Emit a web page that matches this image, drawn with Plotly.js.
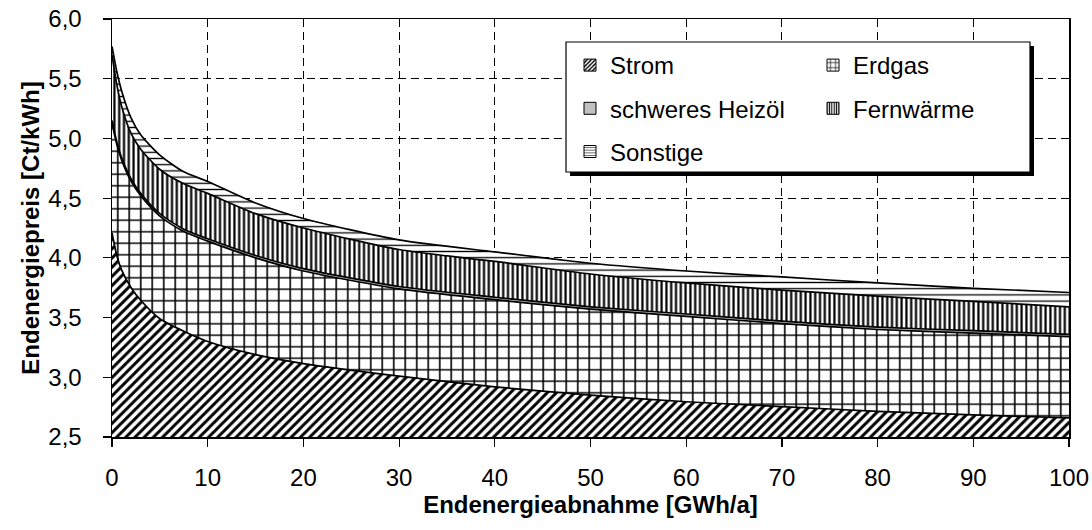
<!DOCTYPE html>
<html>
<head>
<meta charset="utf-8">
<script src="https://cdn.plot.ly/plotly-3.0.1.min.js"></script>
<style>
  html, body { margin: 0; padding: 0; background: #fff; }
  #chart { width: 1092px; height: 530px; }
</style>
</head>
<body>
<div id="chart"></div>
<script>
// Endenergieabnahme [GWh/a]
const abnahme = [0, 0.5, 1, 2, 3, 5, 7.5, 10, 15, 20, 30, 40, 50, 60, 70, 80, 90, 100];
// stacked contributions [Ct/kWh]
const strom     = [4.21, 4.02, 3.90, 3.75, 3.645, 3.49, 3.385, 3.30, 3.19, 3.115, 3.01, 2.92, 2.85, 2.795, 2.755, 2.715, 2.685, 2.66];
const erdgas    = [0.92, 0.93, 0.92, 0.89, 0.875, 0.86, 0.835, 0.84, 0.81, 0.775, 0.73, 0.73, 0.72, 0.715, 0.695, 0.685, 0.685, 0.68];
const heizoel   = [0.02, 0.02, 0.02, 0.02, 0.02, 0.02, 0.02, 0.02, 0.02, 0.02, 0.02, 0.02, 0.02, 0.02, 0.02, 0.02, 0.02, 0.02];
const fernwaerme= [0.55, 0.48, 0.43, 0.38, 0.37, 0.37, 0.38, 0.38, 0.35, 0.34, 0.31, 0.30, 0.275, 0.26, 0.26, 0.26, 0.245, 0.23];
const sonstige  = [0.07, 0.11, 0.13, 0.13, 0.12, 0.12, 0.10, 0.10, 0.09, 0.08, 0.08, 0.08, 0.09, 0.10, 0.11, 0.11, 0.11, 0.12];

const seriesNames = ['Strom', 'Erdgas', 'schweres Heizöl', 'Fernwärme', 'Sonstige'];
const seriesValues = [strom, erdgas, heizoel, fernwaerme, sonstige];
const patterns = [
  {shape: '/', size: 6.5, solidity: 0.46},
  {shape: '+', size: 11.5, solidity: 0.26},
  {shape: '', size: 8, solidity: 0.3},
  {shape: '|', size: 4.8, solidity: 0.46},
  {shape: '-', size: 6.2, solidity: 0.21}
];
const legendOf = ['legend', 'legend2', 'legend', 'legend2', 'legend'];

const FONT = 'Liberation Sans, Arial, sans-serif';
const traces = [];
seriesValues.forEach((vals, i) => {
  const p = patterns[i];
  const isSolid = p.shape === '';
  const area = {
    type: 'scatter', mode: 'lines', x: abnahme, y: vals, name: seriesNames[i],
    stackgroup: 'one', showlegend: false, hoverinfo: 'skip',
    line: {color: '#000', width: 1.7, shape: 'spline', smoothing: 0.7},
    fillcolor: isSolid ? '#c0c0c0' : '#ffffff'
  };
  if (!isSolid) {
    area.fillpattern = {shape: p.shape, fgcolor: '#000', bgcolor: '#fff', size: p.size, solidity: p.solidity, fillmode: 'replace'};
  }
  traces.push(area);
});
// legend entries (square patterned symbols, no visible marks)
seriesNames.forEach((n, i) => {
  const p = patterns[i];
  const isSolid = p.shape === '';
  const mk = {color: isSolid ? '#c0c0c0' : '#fff', line: {color: '#000', width: 1}};
  if (!isSolid) mk.pattern = {shape: p.shape, fgcolor: '#000', bgcolor: '#fff', size: Math.max(3, p.size * 0.55), solidity: p.solidity};
  traces.push({type: 'bar', x: [null], y: [null], name: n, marker: mk, legend: legendOf[i], legendgroup: 'g' + i, showlegend: true, hoverinfo: 'skip'});
});

const L = 112, R = 23, T = 19, B = 93;
const W = 1092, H = 530;
const pw = W - L - R, ph = H - T - B;
const px2x = v => (v - L) / pw;
const py2y = v => (H - B - v) / ph;

const layout = {
  width: W, height: H,
  margin: {l: L, r: R, t: T, b: B, pad: 0},
  paper_bgcolor: '#fff', plot_bgcolor: '#fff',
  font: {family: FONT, size: 24, color: '#000'},
  separators: ',.',
  showlegend: true,
  xaxis: {
    range: [0, 100], dtick: 10, tick0: 0,
    showgrid: true, gridcolor: '#000', gridwidth: 1, griddash: '8px,5px',
    zeroline: false, showline: true, linecolor: '#000', linewidth: 1.5, mirror: true,
    ticks: 'outside', ticklen: 8, tickwidth: 1.2, tickcolor: '#000',
    ticklabelstandoff: 11,
    tickfont: {family: FONT, size: 24, color: '#000'},
    title: {text: 'Endenergieabnahme [GWh/a]', font: {family: FONT, size: 24, color: '#000', weight: 'bold'}, standoff: 0},
    fixedrange: true, layer: 'below traces'
  },
  yaxis: {
    range: [2.5, 6], dtick: 0.5, tick0: 2.5, tickformat: '.1f',
    showgrid: true, gridcolor: '#000', gridwidth: 1, griddash: '8px,5px',
    zeroline: false, showline: true, linecolor: '#000', linewidth: 1.5, mirror: true,
    ticks: 'outside', ticklen: 8, tickwidth: 1.2, tickcolor: '#000',
    ticklabelstandoff: 16,
    tickfont: {family: FONT, size: 24, color: '#000'},
    title: {text: 'Endenergiepreis [Ct/kWh]', font: {family: FONT, size: 24, color: '#000', weight: 'bold'}, standoff: 2},
    fixedrange: true, layer: 'below traces'
  },
  legend: {
    x: px2x(570), xanchor: 'left', y: py2y(43), yanchor: 'top',
    orientation: 'v', bgcolor: 'rgba(0,0,0,0)', borderwidth: 0,
    traceorder: 'grouped', tracegroupgap: 9,
    font: {family: FONT, size: 24, color: '#000'}
  },
  legend2: {
    x: px2x(813), xanchor: 'left', y: py2y(43), yanchor: 'top',
    orientation: 'v', bgcolor: 'rgba(0,0,0,0)', borderwidth: 0,
    traceorder: 'grouped', tracegroupgap: 9,
    font: {family: FONT, size: 24, color: '#000'}
  },
  shapes: [
    {type: 'rect', xref: 'paper', yref: 'paper', layer: 'above',
     x0: px2x(570), x1: px2x(1034), y0: py2y(176), y1: py2y(46),
     fillcolor: '#000', line: {width: 0}},
    {type: 'rect', xref: 'paper', yref: 'paper', layer: 'above',
     x0: px2x(566), x1: px2x(1030), y0: py2y(172), y1: py2y(42),
     fillcolor: '#fff', line: {color: '#000', width: 1.2}}
  ]
};

Plotly.newPlot('chart', traces, layout, {displayModeBar: false, staticPlot: true});
</script>
</body>
</html>
